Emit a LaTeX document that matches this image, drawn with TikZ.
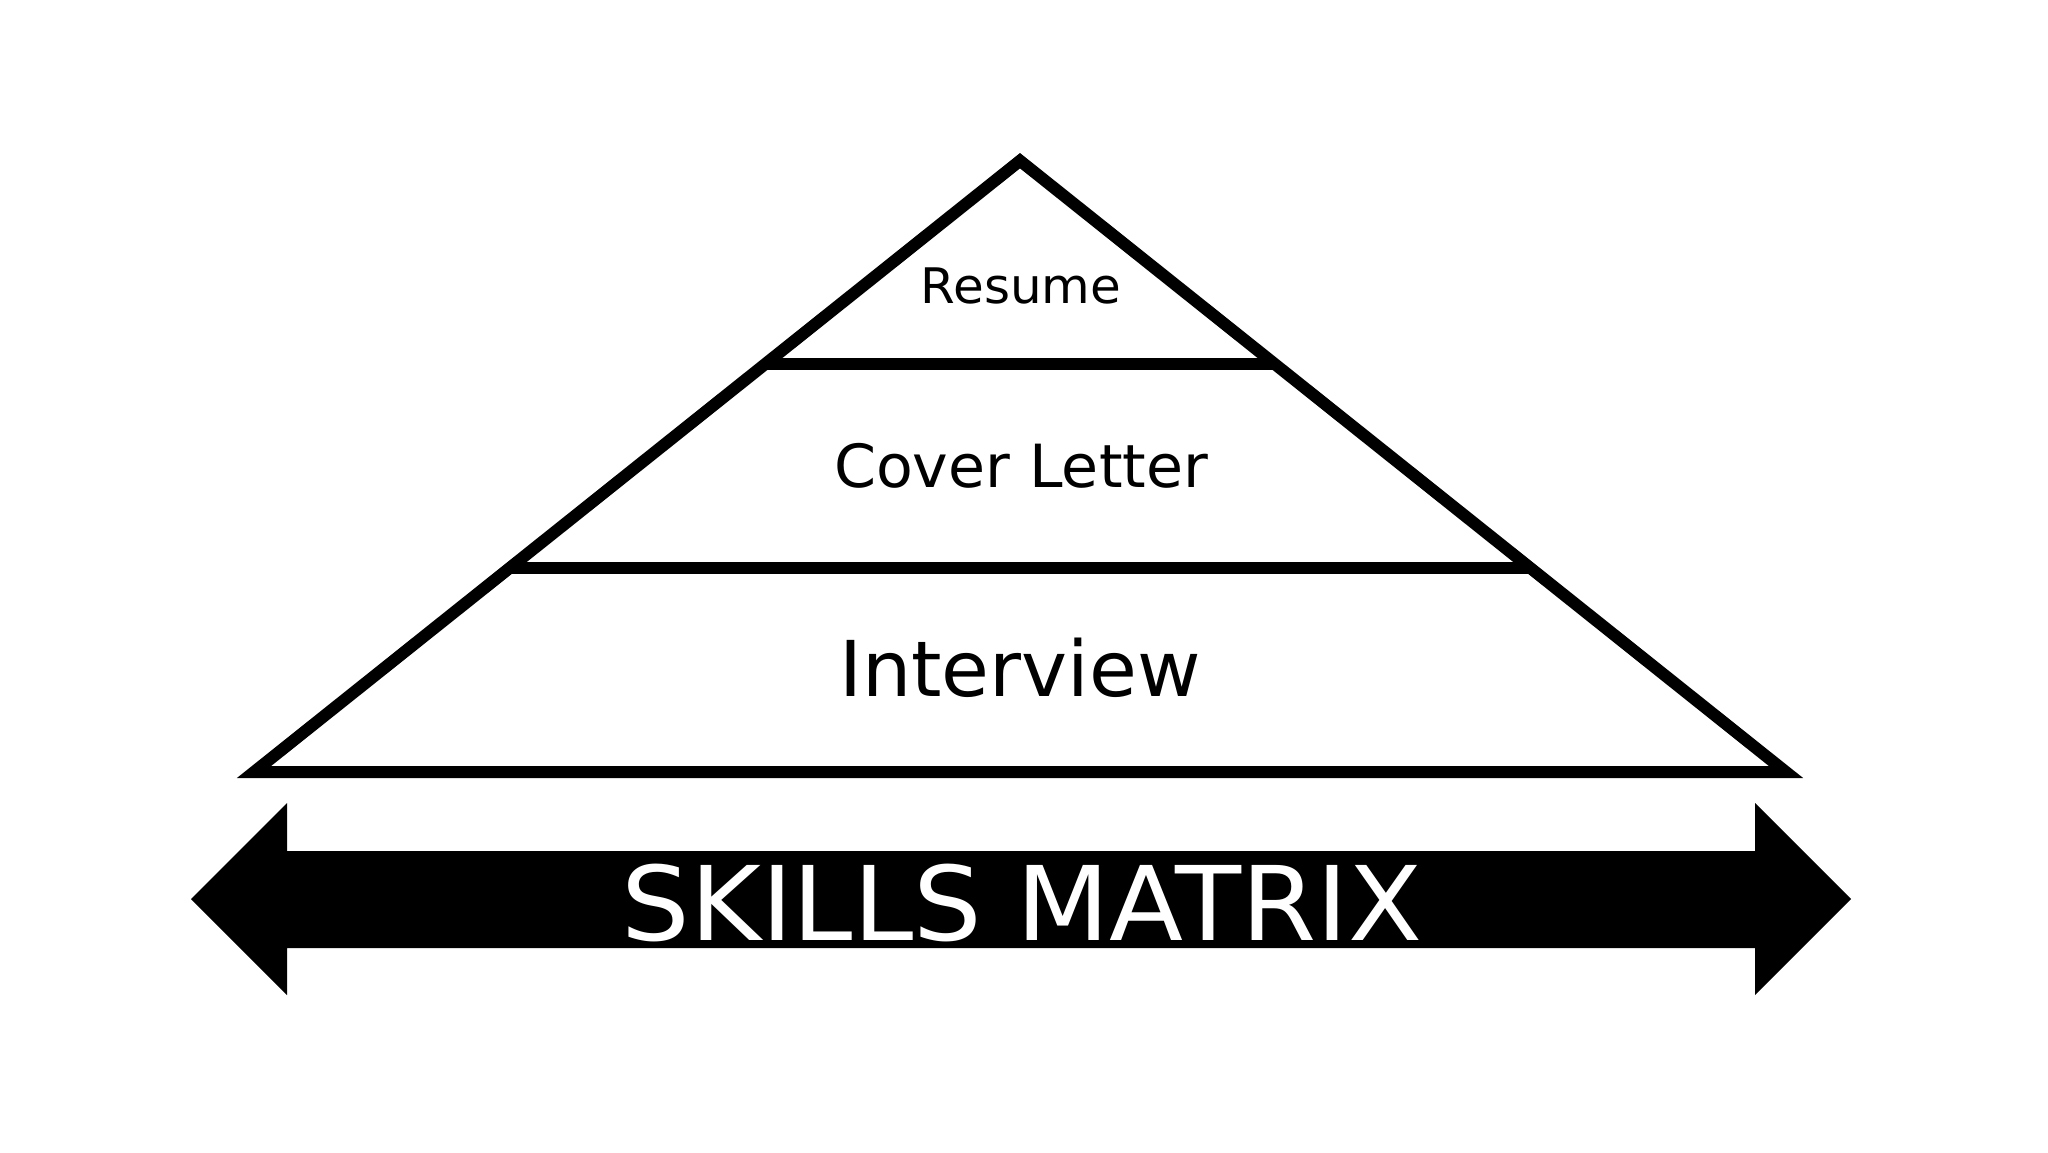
\documentclass[tikz,border=0pt]{standalone}
\usepackage{fontspec}
\setmainfont{DejaVu Sans}
\usetikzlibrary{calc}
\begin{document}
\begin{tikzpicture}[x=1pt,y=-1pt,
  edge/.style={line width=12pt,line join=miter,black},
  label/.style={anchor=base,inner sep=0pt,black}]
\useasboundingbox[fill=white] (0,0) rectangle (2048,1152);
% pyramid outline
\coordinate (apex) at (1020,160.7);
\coordinate (bl) at (254,772);
\coordinate (br) at (1786,772);
\draw[edge] (apex) -- (br) -- (bl) -- cycle;
% dividing lines
\coordinate (l1) at ($(apex)!0.33257!(bl)$);
\coordinate (r1) at ($(apex)!0.33257!(br)$);
\coordinate (l2) at ($(apex)!0.66628!(bl)$);
\coordinate (r2) at ($(apex)!0.66628!(br)$);
\draw[line width=12pt] (l1) -- (r1);
\draw[line width=12pt] (l2) -- (r2);
% labels
\node[label,font=\fontsize{49}{49}\selectfont,xscale=1.02] (resume) at (1021,303) {Resume};
\node[label,font=\fontsize{59.5}{60}\selectfont,xscale=1.012] (cover) at (1021,487) {Cover Letter};
\node[label,font=\fontsize{77}{77}\selectfont,xscale=1.01] (interview) at (1020,696) {Interview};
% double arrow
\fill[black] (191,899) -- (287,803) -- (287,851) -- (1755,851) -- (1755,803)
  -- (1851,899) -- (1755,995) -- (1755,948) -- (287,948) -- (287,995) -- cycle;
\node[label,text=white,font=\fontsize{103}{103}\selectfont,xscale=1.05] (skills) at (1022,940) {SKILLS MATRIX};
\end{tikzpicture}
\end{document}
